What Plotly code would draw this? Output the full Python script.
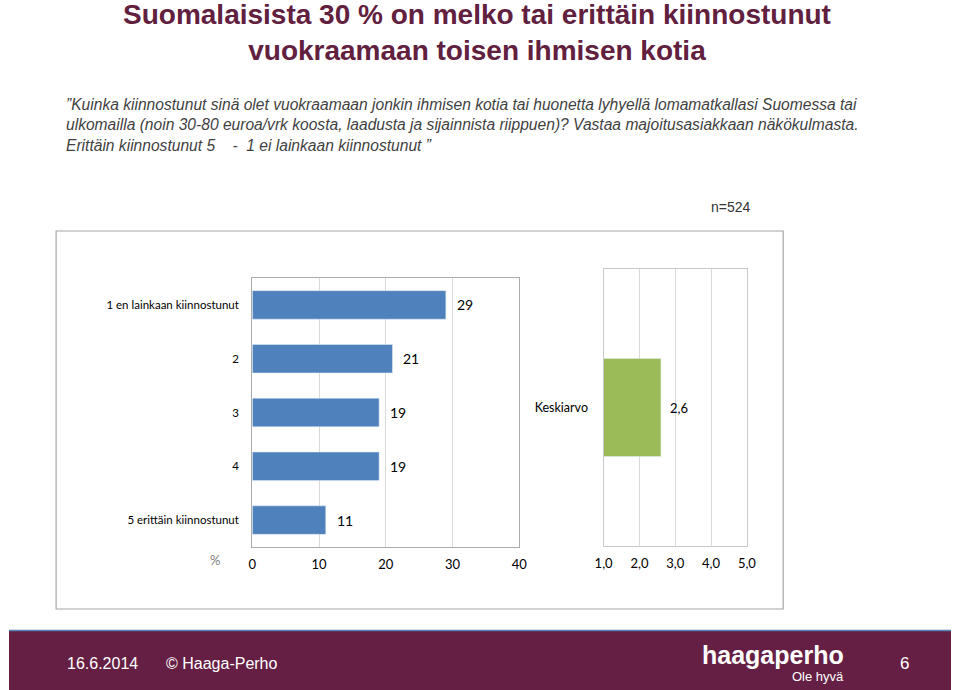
import plotly.graph_objects as go

# ---- data ----
categories = ["1 en lainkaan kiinnostunut", "2", "3", "4", "5 erittäin kiinnostunut"]
values = [29, 21, 19, 19, 11]
mean_label = ["Keskiarvo"]
mean_value = [2.6]
x_ticks_pct = [0, 10, 20, 30, 40]
x_ticks_mean = [1.0, 2.0, 3.0, 4.0, 5.0]

W, H = 960, 690
def px(x): return x / W
def py(y): return 1 - y / H

BLUE = "#4F81BD"
GREEN = "#9BBB59"
PURPLE = "#62203F"
FOOT = "#661F44"
CAL = "Lato, 'Open Sans', sans-serif"
SANS = "'Liberation Sans', Arial, sans-serif"

fig = go.Figure()
fig.add_trace(go.Bar(
    y=categories, x=values, orientation="h", marker=dict(color=BLUE),
    width=0.53, xaxis="x", yaxis="y", showlegend=False, hoverinfo="x+y"))
fig.add_trace(go.Bar(
    y=mean_label, x=mean_value, orientation="h", marker=dict(color=GREEN),
    width=0.354, xaxis="x2", yaxis="y2", showlegend=False, hoverinfo="x+y"))

annotations = []
for i, v in enumerate(values):
    annotations.append(dict(x=v, y=i, xref="x", yref="y", text=str(v), showarrow=False,
                            xanchor="left", xshift=9, font=dict(family=CAL, size=14, color="#000")))
for i, v in enumerate(mean_value):
    annotations.append(dict(x=v, y=i, xref="x2", yref="y2", text=f"{v:.1f}".replace(".", ","),
                            showarrow=False, xanchor="left", xshift=7,
                            font=dict(family=CAL, size=13, color="#000")))

def ptext(x, y, text, font, xanchor="center", **kw):
    return dict(x=px(x), y=py(y), xref="paper", yref="paper", xanchor=xanchor, yanchor="middle",
                text=text, showarrow=False, font=font, **kw)

annotations.append(ptext(210, 560, "%", dict(family=CAL, size=13, color="#808080")))
annotations.append(ptext(736, 207, "n=524", dict(family=SANS, size=14, color="#333333")))
annotations.append(ptext(477, 33,
                         "<b>Suomalaisista 30 % on melko tai erittäin kiinnostunut<br>vuokraamaan toisen ihmisen kotia</b>",
                         dict(family=SANS, size=28, color=PURPLE)))
sub = ("<i>”Kuinka kiinnostunut sinä olet vuokraamaan jonkin ihmisen kotia tai huonetta lyhyellä lomamatkallasi Suomessa tai<br>"
       "ulkomailla (noin 30-80 euroa/vrk koosta, laadusta ja sijainnista riippuen)? Vastaa majoitusasiakkaan näkökulmasta.<br>"
       "Erittäin kiinnostunut 5\u00a0\u00a0\u00a0\u00a0-\u00a0 1 ei lainkaan kiinnostunut ”</i>")
annotations.append(ptext(56, 125, sub, dict(family=SANS, size=15.6, color="#3F3F3F"), xanchor="left", align="left"))
annotations.append(ptext(57, 663, "16.6.2014", dict(family=SANS, size=16, color="white"), xanchor="left"))
annotations.append(ptext(158, 663, "© Haaga-Perho", dict(family=SANS, size=16, color="white"), xanchor="left"))
annotations.append(ptext(853, 655, "<b>haagaperho</b>", dict(family=SANS, size=25, color="white"), xanchor="right"))
annotations.append(ptext(853, 676, "Ole hyvä", dict(family=SANS, size=13, color="white"), xanchor="right"))
annotations.append(ptext(913, 663, "6", dict(family=SANS, size=17, color="white")))

shapes = [
    dict(type="rect", xref="paper", yref="paper", x0=px(48), x1=px(789), y0=py(609), y1=py(231),
         line=dict(color="#A6A6A6", width=1.2), fillcolor="rgba(0,0,0,0)", layer="below"),
    dict(type="rect", xref="paper", yref="paper", x0=0, x1=1, y0=0, y1=py(630),
         line=dict(width=0), fillcolor=FOOT, layer="below"),
    dict(type="line", xref="paper", yref="paper", x0=0, x1=1, y0=py(630.5), y1=py(630.5),
         line=dict(color="#5A7FB5", width=1.5)),
]

axis_font = dict(family=CAL, size=13, color="#000")
fig.update_layout(
    width=W, height=H, margin=dict(l=0, r=0, t=0, b=0), autosize=False,
    paper_bgcolor="white", plot_bgcolor="white",
    separators=",.",
    annotations=annotations, shapes=shapes,
    xaxis=dict(domain=[px(248), px(520)], range=[0, 40], tickvals=x_ticks_pct,
               showgrid=True, gridcolor="#D9D9D9", gridwidth=1, zeroline=False,
               showline=True, mirror=True, linecolor="#ABABAB", linewidth=1.3,
               ticks="", tickfont=axis_font, ticklabelstandoff=5, anchor="y", fixedrange=True),
    yaxis=dict(domain=[py(547), py(278)], categoryorder="array", categoryarray=categories,
               autorange="reversed", showline=True, mirror=True, linecolor="#ABABAB", linewidth=1.3,
               showgrid=False, ticks="", tickfont=dict(family=CAL, size=11.5, color="#000"),
               ticklabelstandoff=10, anchor="x", fixedrange=True),
    xaxis2=dict(domain=[px(606), px(752)], range=[1, 5], tickvals=x_ticks_mean, tickformat=".1f",
                showgrid=True, gridcolor="#D9D9D9", gridwidth=1, zeroline=False,
                showline=True, mirror=True, linecolor="#C8C8C8", linewidth=1.3,
                ticks="", tickfont=axis_font, ticklabelstandoff=5, anchor="y2", fixedrange=True),
    yaxis2=dict(domain=[py(546), py(269)], showline=True, mirror=True, linecolor="#C8C8C8", linewidth=1.3,
                showgrid=False, ticks="", tickfont=dict(family=CAL, size=12.5, color="#000"),
                ticklabelstandoff=12, anchor="x2", fixedrange=True),
)

fig.write_html("out.html", config={"responsive": False, "displayModeBar": False},
               post_script="document.body.style.margin='0px';document.body.style.overflow='hidden';")
